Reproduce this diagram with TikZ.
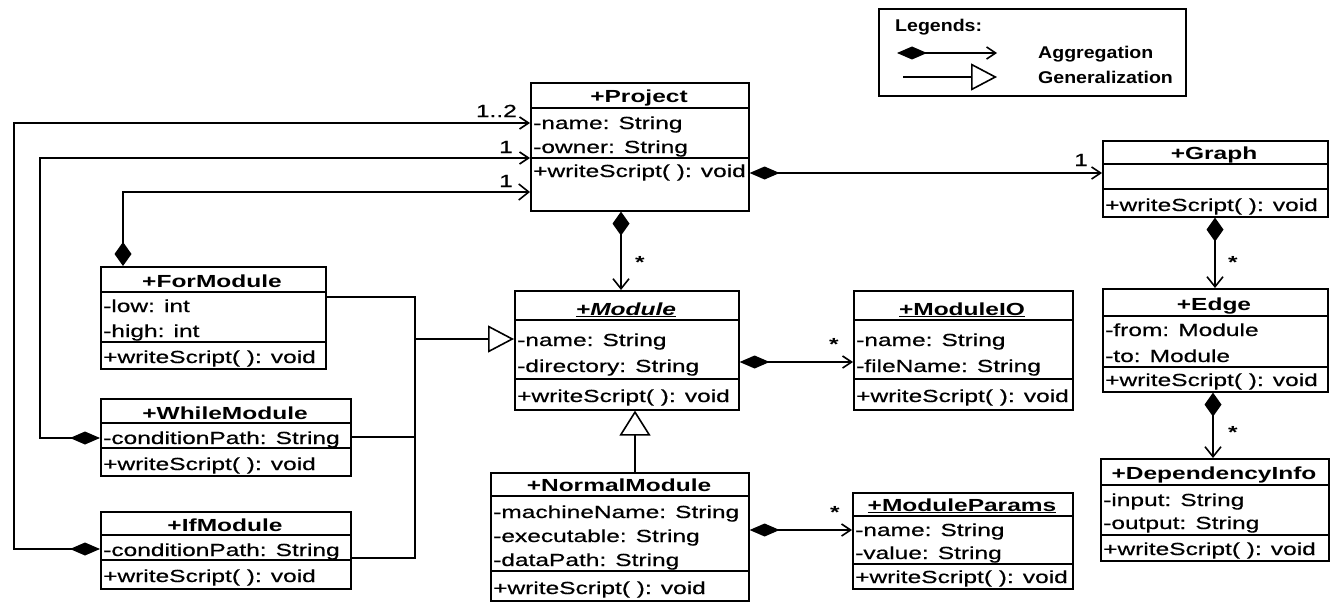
\documentclass[tikz,border=0pt]{standalone}
\usepackage{fontspec}
\setmainfont{Liberation Sans}[FakeStretch=1.4, UprightFeatures={FakeBold=0.6}, ItalicFeatures={FakeBold=0.6}]
\newfontfamily\legfont{Liberation Sans}[FakeStretch=1.15]
\usetikzlibrary{arrows.meta,calc}
\begin{document}
\begin{tikzpicture}[x=1pt,y=-1pt,
  cls/.style={draw, line width=1.6pt, inner sep=0pt, anchor=north west},
  div/.style={line width=1.4pt},
  txt/.style={inner sep=0pt, anchor=base west, font=\fontsize{17.5}{20}\selectfont},
  hdr/.style={inner sep=0pt, anchor=base, font=\fontsize{17.5}{20}\selectfont\bfseries},
  lbl/.style={inner sep=0pt, anchor=base east, font=\fontsize{17.5}{20}\selectfont},
  mult/.style={inner sep=0pt, anchor=center, yshift=-4pt, font=\fontsize{17.5}{20}\selectfont\bfseries},
  legtxt/.style={inner sep=0pt, anchor=base west, font=\legfont\fontsize{17}{20}\selectfont\bfseries},
  conn/.style={line width=1.6pt},
  hagg/.style={conn, {Diamond[length=30pt,width=13pt]}-{Straight Barb[length=9pt,width=12pt]}},
  vagg/.style={conn, {Diamond[length=24pt,width=17pt]}-{Straight Barb[length=10pt,width=16pt]}},
  gen/.style={conn, -{Triangle[open, length=26pt, width=27pt]}},
  vgen/.style={conn, -{Triangle[open, length=25pt, width=31pt]}}
]
\useasboundingbox (0,0) rectangle (1333,602);
\fill[white] (0,0) rectangle (1333,602);

% ---------- Legend ----------
\node[cls, minimum width=307pt, minimum height=87pt] (leg) at (878,8) {};
\node[legtxt] (legt) at (895,32) {Legends:};
\coordinate (la1) at (897,53); \coordinate (la2) at (997,53);
\coordinate (lg1) at (903,77); \coordinate (lg2) at (997,77);
\draw[hagg] (la1) -- (la2);
\draw[gen] (lg1) -- (lg2);
\node[legtxt] (lagg) at (1038,59) {Aggregation};
\node[legtxt] (lgen) at (1038,83) {Generalization};

% ---------- Project ----------
\node[cls, minimum width=218pt, minimum height=128pt] (proj) at (530,82) {};
\draw[div] (proj.west |- 0,108) -- (proj.east |- 0,108);
\draw[div] (proj.west |- 0,158) -- (proj.east |- 0,158);
\node[hdr] (projh) at (639,102) {\underline{+Project}};
\node[txt] (proja1) at (533,129) {-name: String};
\node[txt] (proja2) at (533,153) {-owner: String};
\node[txt] (projm1) at (533,177) {+writeScript( ): void};

% ---------- Graph ----------
\node[cls, minimum width=225pt, minimum height=76pt] (graph) at (1102,140) {};
\draw[div] (graph.west |- 0,164) -- (graph.east |- 0,164);
\draw[div] (graph.west |- 0,189) -- (graph.east |- 0,189);
\node[hdr] (graphh) at (1214,159) {\underline{+Graph}};
\node[txt] (graphm1) at (1105,211) {+writeScript( ): void};

% ---------- Edge ----------
\node[cls, minimum width=225pt, minimum height=103pt] (edge) at (1102,288) {};
\draw[div] (edge.west |- 0,316) -- (edge.east |- 0,316);
\draw[div] (edge.west |- 0,367) -- (edge.east |- 0,367);
\node[hdr] (edgeh) at (1214,310) {\underline{+Edge}};
\node[txt] (edgea1) at (1105,336) {-from: Module};
\node[txt] (edgea2) at (1105,362) {-to: Module};
\node[txt] (edgem1) at (1105,386) {+writeScript( ): void};

% ---------- DependencyInfo ----------
\node[cls, minimum width=228pt, minimum height=102pt] (dep) at (1100,458) {};
\draw[div] (dep.west |- 0,485) -- (dep.east |- 0,485);
\draw[div] (dep.west |- 0,535) -- (dep.east |- 0,535);
\node[hdr] (deph) at (1214,479) {\underline{+DependencyInfo}};
\node[txt] (depa1) at (1103,506) {-input: String};
\node[txt] (depa2) at (1103,529) {-output: String};
\node[txt] (depm1) at (1103,555) {+writeScript( ): void};

% ---------- Module ----------
\node[cls, minimum width=224pt, minimum height=119pt] (mod) at (514,290) {};
\draw[div] (mod.west |- 0,320) -- (mod.east |- 0,320);
\draw[div] (mod.west |- 0,379) -- (mod.east |- 0,379);
\node[hdr] (modh) at (626,315) {\underline{\itshape +Module}};
\node[txt] (moda1) at (517,346) {-name: String};
\node[txt] (moda2) at (517,372) {-directory: String};
\node[txt] (modm1) at (517,402) {+writeScript( ): void};

% ---------- ModuleIO ----------
\node[cls, minimum width=219pt, minimum height=119pt] (mio) at (853,290) {};
\draw[div] (mio.west |- 0,320) -- (mio.east |- 0,320);
\draw[div] (mio.west |- 0,379) -- (mio.east |- 0,379);
\node[hdr] (mioh) at (962,315) {\underline{+ModuleIO}};
\node[txt] (mioa1) at (856,346) {-name: String};
\node[txt] (mioa2) at (856,372) {-fileName: String};
\node[txt] (miom1) at (856,402) {+writeScript( ): void};

% ---------- ForModule ----------
\node[cls, minimum width=225pt, minimum height=102pt] (form) at (100,266) {};
\draw[div] (form.west |- 0,292) -- (form.east |- 0,292);
\draw[div] (form.west |- 0,342) -- (form.east |- 0,342);
\node[hdr] (formh) at (212,287) {+ForModule};
\node[txt] (forma1) at (103,312) {-low: int};
\node[txt] (forma2) at (103,337) {-high: int};
\node[txt] (formm1) at (103,363) {+writeScript( ): void};

% ---------- WhileModule ----------
\node[cls, minimum width=250pt, minimum height=77pt] (whm) at (100,398) {};
\draw[div] (whm.west |- 0,423) -- (whm.east |- 0,423);
\draw[div] (whm.west |- 0,448) -- (whm.east |- 0,448);
\node[hdr] (whmh) at (225,419) {+WhileModule};
\node[txt] (whma1) at (103,444) {-conditionPath: String};
\node[txt] (whmm1) at (103,470) {+writeScript( ): void};

% ---------- IfModule ----------
\node[cls, minimum width=250pt, minimum height=77pt] (ifm) at (100,511) {};
\draw[div] (ifm.west |- 0,535) -- (ifm.east |- 0,535);
\draw[div] (ifm.west |- 0,560) -- (ifm.east |- 0,560);
\node[hdr] (ifmh) at (225,531) {+IfModule};
\node[txt] (ifma1) at (103,556) {-conditionPath: String};
\node[txt] (ifmm1) at (103,582) {+writeScript( ): void};

% ---------- NormalModule ----------
\node[cls, minimum width=258pt, minimum height=128pt] (norm) at (490,472) {};
\draw[div] (norm.west |- 0,496) -- (norm.east |- 0,496);
\draw[div] (norm.west |- 0,571) -- (norm.east |- 0,571);
\node[hdr] (normh) at (619,491) {+NormalModule};
\node[txt] (norma1) at (493,518) {-machineName: String};
\node[txt] (norma2) at (493,542) {-executable: String};
\node[txt] (norma3) at (493,566) {-dataPath: String};
\node[txt] (normm1) at (493,594) {+writeScript( ): void};

% ---------- ModuleParams ----------
\node[cls, minimum width=220pt, minimum height=96pt] (mpar) at (852,492) {};
\draw[div] (mpar.west |- 0,516) -- (mpar.east |- 0,516);
\draw[div] (mpar.west |- 0,564) -- (mpar.east |- 0,564);
\node[hdr] (mparh) at (962,511) {\underline{+ModuleParams}};
\node[txt] (mpara1) at (855,536) {-name: String};
\node[txt] (mpara2) at (855,559) {-value: String};
\node[txt] (mparm1) at (855,583) {+writeScript( ): void};

% ---------- Aggregations ----------
\draw[hagg] (ifm.west |- 0,549) -| (14,123) -- (proj.west |- 0,123);
\draw[hagg] (whm.west |- 0,438) -| (40,158) -- (proj.west |- 0,158);
\draw[vagg] (form.north -| 123,0) |- (proj.west |- 0,192);
\node[lbl] (m12) at (517,117) {1..2};
\node[lbl] (m1a) at (513,153) {1};
\node[lbl] (m1b) at (513,187) {1};

\draw[hagg] (proj.east |- 0,173) -- (graph.west |- 0,173);
\node[lbl] (m1c) at (1088,166) {1};

\draw[vagg] (proj.south -| 621,0) -- (mod.north -| 621,0);
\node[mult] (s1) at (640,258) {*};

\draw[hagg] (mod.east |- 0,362) -- (mio.west |- 0,362);
\node[mult] (s2) at (834,340) {*};

\draw[vagg] (graph.south -| 1215,0) -- (edge.north -| 1215,0);
\node[mult] (s3) at (1233,258) {*};

\draw[vagg] (edge.south -| 1213,0) -- (dep.north -| 1213,0);
\node[mult] (s4) at (1233,428) {*};

\draw[hagg] (norm.east |- 0,530) -- (mpar.west |- 0,530);
\node[mult] (s5) at (835,508) {*};

% ---------- Generalizations ----------
\coordinate (bustop) at (415,297);
\coordinate (busbot) at (415,558);
\coordinate (busmid) at (415,339);
\draw[conn] (form.east |- bustop) -- (bustop) -- (busbot) -- (ifm.east |- busbot);
\draw[conn] (whm.east |- 0,437) -- (415,437);
\draw[gen] (busmid) -- (mod.west |- busmid);
\draw[vgen] (norm.north -| 635,0) -- (mod.south -| 635,0);
\end{tikzpicture}
\end{document}
